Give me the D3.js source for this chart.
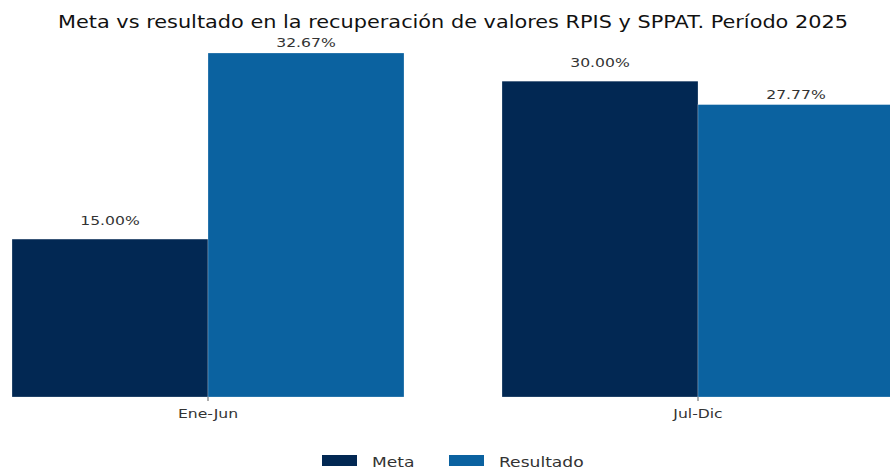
<!DOCTYPE html>
<html>
<head>
<meta charset="utf-8">
<script src="https://cdn.jsdelivr.net/npm/d3@7"></script>
<style>
  body { margin: 0; background: #fff; }
  text { font-family: "DejaVu Sans", sans-serif; fill: #333; }
</style>
</head>
<body>
<div id="chart"></div>
<script>
var w = 890,
    h = 468;

var categories = ["Ene-Jun", "Jul-Dic"];
var series = ["Meta", "Resultado"];
var meta = [15.00, 30.00];
var resultado = [32.67, 27.77];
var colors = ["#022853", "#0b62a0"];
var title = "Meta vs resultado en la recuperación de valores RPIS y SPPAT. Período 2025";

var svg = d3.select("#chart").append("svg")
    .attr("width", w)
    .attr("height", h);

// stretch text horizontally like the reference
function stretch(sel, k) {
    sel.each(function () {
        var len = this.getComputedTextLength();
        d3.select(this).attr("textLength", len * k).attr("lengthAdjust", "spacingAndGlyphs");
    });
}

var x0 = d3.scaleBand()
    .domain(categories)
    .range([12, 894])
    .paddingInner(0.2)
    .paddingOuter(0);

var x1 = d3.scaleBand()
    .domain(series)
    .range([0, x0.bandwidth()]);

var y = d3.scaleLinear()
    .domain([0, 32.67])
    .range([397, 53]);

var color = d3.scaleOrdinal().domain(series).range(colors);

var rows = categories.map(function (c, i) {
    return { cat: c, values: [
        { key: "Meta", value: meta[i], offset: 14 },
        { key: "Resultado", value: resultado[i], offset: 6 }
    ] };
});

svg.append("text")
    .attr("x", 453)
    .attr("y", 28)
    .attr("text-anchor", "middle")
    .style("font-size", "18px")
    .style("fill", "#111")
    .attr("textLength", 790)
    .attr("lengthAdjust", "spacingAndGlyphs")
    .text(title);

var g = svg.selectAll("g.group")
    .data(rows)
    .enter()
    .append("g")
    .attr("class", "group")
    .attr("transform", function (d) { return "translate(" + x0(d.cat) + ",0)"; });

g.selectAll("rect")
    .data(function (d) { return d.values; })
    .enter()
    .append("rect")
    .attr("x", function (d) { return x1(d.key); })
    .attr("y", function (d) { return y(d.value); })
    .attr("width", x1.bandwidth())
    .attr("height", function (d) { return y(0) - y(d.value); })
    .style("fill", function (d) { return color(d.key); })
    .style("stroke", "#fff")
    .style("stroke-width", 0.25);

g.selectAll("text.val")
    .data(function (d) { return d.values; })
    .enter()
    .append("text")
    .attr("class", "val")
    .attr("x", function (d) { return x1(d.key) + x1.bandwidth() / 2; })
    .attr("y", function (d) { return y(d.value) - d.offset; })
    .attr("text-anchor", "middle")
    .style("font-size", "13px")
    .text(function (d) { return d.value.toFixed(2) + "%"; })
    .call(stretch, 1.2);

// x axis ticks
var ticks = svg.selectAll("g.tick")
    .data(categories)
    .enter()
    .append("g")
    .attr("class", "tick")
    .attr("transform", function (d) { return "translate(" + (x0(d) + x0.bandwidth() / 2) + "," + y(0) + ")"; });

ticks.append("line")
    .attr("y2", 4)
    .style("stroke", "#333")
    .style("stroke-width", 0.8);

ticks.append("text")
    .attr("y", 21)
    .attr("text-anchor", "middle")
    .style("font-size", "13px")
    .text(function (d) { return d; })
    .call(stretch, 1.2);

// legend
var legend = svg.selectAll("g.legend")
    .data(series)
    .enter()
    .append("g")
    .attr("class", "legend")
    .attr("transform", function (d, i) { return "translate(" + (322 + i * 127) + ",455)"; });

legend.append("rect")
    .attr("width", 35)
    .attr("height", 11)
    .style("fill", function (d) { return color(d); });

legend.append("text")
    .attr("x", 50)
    .attr("y", 11.5)
    .style("font-size", "14.5px")
    .text(function (d) { return d; })
    .call(stretch, 1.18);
</script>
</body>
</html>
